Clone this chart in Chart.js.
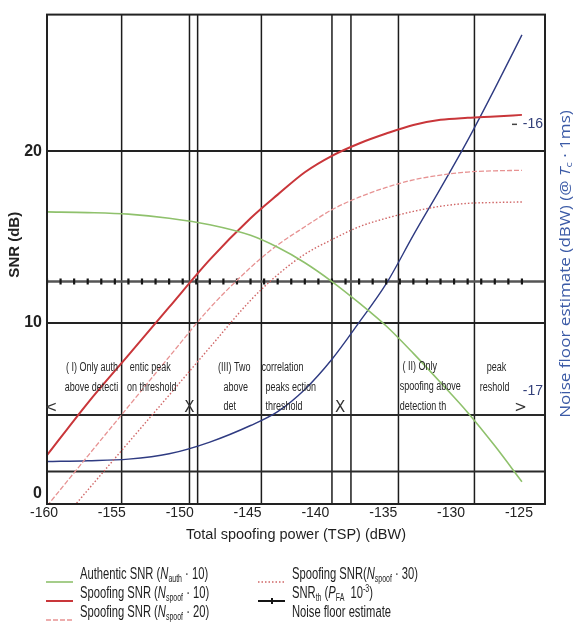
<!DOCTYPE html>
<html>
<head>
<meta charset="utf-8">
<script src="https://cdn.jsdelivr.net/npm/chart.js@4.4.0/dist/chart.umd.min.js"></script>
<style>
  html, body { margin: 0; padding: 0; background: #fff; }
  #myChart { display: block; }
</style>
</head>
<body>
<canvas id="myChart" width="576" height="634"></canvas>
<script>
// total spoofing power (dBW), shared by every curve
const tsp = [-160, -157, -154, -151, -148, -145, -143, -141, -139, -137, -135, -133, -131, -129, -127, -125];
// SNR curves (dB)
const authSnr = [16.47, 16.43, 16.34, 16.1, 15.72, 15.1, 14.4, 13.5, 12.4, 11.15, 9.8, 8.2, 6.5, 4.75, 2.8, 0.7];
const spoof10 = [2.25, 5.3, 8.1, 10.9, 13.68, 16.1, 17.48, 18.79, 19.75, 20.47, 21.05, 21.55, 21.85, 21.97, 22.05, 22.14];
const spoof20 = [-0.72, 2.2, 5.1, 8.0, 10.85, 13.22, 14.54, 15.6, 16.6, 17.33, 17.9, 18.34, 18.62, 18.8, 18.87, 18.9];
const spoof30 = [-2.57, 0.21, 2.99, 5.76, 8.55, 11.3, 12.8, 14.0, 14.85, 15.6, 16.1, 16.5, 16.8, 16.97, 17.02, 17.05];
// noise floor estimate (dBW), right axis
const noiseFloor = [-17.263, -17.26, -17.254, -17.234, -17.19, -17.128, -17.076, -16.993, -16.88, -16.742, -16.597, -16.415, -16.24, -16.06, -15.866, -15.665];

// detection threshold and its markers
const snrThreshold = 12.4;
const snrThMarks = [-160, -159, -158, -157, -156, -155, -154, -153, -152, -151, -150, -149, -148, -147, -146, -145, -144, -143,
  -142, -141, -140, -139, -138, -137, -136, -135, -134, -133, -132, -131, -130, -129, -128, -127, -126, -125];

// region boundaries
const regionBounds = [-154.5, -149.5, -148.9, -144.2, -139.0, -137.6, -134.1, -128.5];
const levelLines = [4.6, 1.3];

// tick labels
const xTicks = [-160, -155, -150, -145, -140, -135, -130, -125];
const yTicks = [0, 10, 20];
const y2Ticks = [-17, -16];

// text written inside the plot: [text, tsp, snr]
const regionNotes = [
  ['( I) Only auth', -158.6, 7.35], ['entic peak', -153.9, 7.35],
  ['above detecti', -158.7, 6.2], ['on threshold', -154.1, 6.2],
  ['(III) Two', -147.4, 7.35], ['correlation', -144.2, 7.35],
  ['above', -147.0, 6.2], ['peaks ection', -143.9, 6.2],
  ['det', -147.0, 5.1], ['threshold', -143.9, 5.1],
  ['( II) Only', -133.8, 7.4], ['spoofing above', -134.0, 6.25], ['detection th', -134.0, 5.1],
  ['peak', -127.6, 7.35], ['reshold', -128.1, 6.2]
];
const regionMarks = [['<', -159.7, 5.0], ['X', -149.5, 5.0], ['X', -138.4, 5.0], ['>', -125.1, 5.0]];

const NARROW = '"Liberation Sans Narrow", "Arial Narrow", sans-serif';

const pts = (xs, ys) => xs.map((x, i) => ({ x: x, y: ys[i] }));

// text with *italic*, _{sub} and ^{sup}
function richParts(str) {
  const parts = [];
  const re = /\*([^*]+)\*|_\{([^}]*)\}|\^\{([^}]*)\}|([^*_^]+)/g;
  let m;
  while ((m = re.exec(str))) {
    if (m[1]) parts.push({ t: m[1], it: true, dy: 0, k: 1 });
    else if (m[2] !== undefined) parts.push({ t: m[2], it: false, dy: 0.28, k: 0.62 });
    else if (m[3] !== undefined) parts.push({ t: m[3], it: false, dy: -0.3, k: 0.62 });
    else parts.push({ t: m[4], it: false, dy: 0, k: 1 });
  }
  return parts;
}
function richWidth(ctx, str, size, family) {
  let w = 0;
  for (const p of richParts(str)) {
    ctx.font = (p.it ? 'italic ' : '') + Math.round(size * p.k) + 'px ' + family;
    w += ctx.measureText(p.t).width;
  }
  return w;
}
function drawRich(ctx, str, x, y, size, family, color, sx) {
  ctx.save();
  ctx.translate(x, y);
  ctx.scale(sx || 1, 1);
  ctx.fillStyle = color;
  ctx.textAlign = 'left';
  ctx.textBaseline = 'middle';
  let cx = 0;
  for (const p of richParts(str)) {
    ctx.font = (p.it ? 'italic ' : '') + Math.round(size * p.k) + 'px ' + family;
    ctx.fillText(p.t, cx, p.dy * size);
    cx += ctx.measureText(p.t).width;
  }
  ctx.restore();
}

const overlay = {
  id: 'overlay',
  beforeDatasetsDraw(chart) {
    const { ctx, chartArea: a, scales } = chart;
    const x = scales.x, y = scales.y;
    ctx.save();
    ctx.strokeStyle = '#1c1c1c';
    ctx.lineWidth = 1.5;
    regionBounds.forEach(v => {
      const px = x.getPixelForValue(v);
      ctx.beginPath(); ctx.moveTo(px, a.top); ctx.lineTo(px, a.bottom); ctx.stroke();
    });
    ctx.lineWidth = 2;
    ctx.strokeStyle = '#2a2a2a';
    levelLines.forEach(v => {
      const py = y.getPixelForValue(v);
      ctx.beginPath(); ctx.moveTo(a.left, py); ctx.lineTo(a.right, py); ctx.stroke();
    });
    ctx.lineWidth = 2.5;
    ctx.strokeStyle = '#555';
    const ty = y.getPixelForValue(snrThreshold);
    ctx.beginPath(); ctx.moveTo(a.left, ty); ctx.lineTo(a.right, ty); ctx.stroke();
    ctx.restore();
  },
  afterDatasetsDraw(chart) {
    const { ctx, chartArea: a, scales } = chart;
    const x = scales.x, y = scales.y;
    ctx.save();
    ctx.strokeStyle = '#222';
    ctx.lineWidth = 2;
    ctx.strokeRect(a.left, a.top, a.right - a.left, a.bottom - a.top);
    // small inner tick of the right axis
    ctx.lineWidth = 1.5;
    ctx.strokeStyle = '#444';
    const p16 = scales.y2.getPixelForValue(y2Ticks[1]);
    ctx.beginPath(); ctx.moveTo(a.right - 33, p16); ctx.lineTo(a.right - 28, p16); ctx.stroke();
    regionNotes.forEach(n => {
      drawRich(ctx, n[0], x.getPixelForValue(n[1]), y.getPixelForValue(n[2]), 12, NARROW, '#262626', 0.75);
    });
    ctx.font = '15px "DejaVu Sans", sans-serif';
    ctx.fillStyle = '#333';
    ctx.textAlign = 'center';
    ctx.textBaseline = 'middle';
    regionMarks.forEach(n => ctx.fillText(n[0], x.getPixelForValue(n[1]), y.getPixelForValue(n[2])));
    ctx.restore();
  },
  afterDraw(chart) {
    const { ctx } = chart;
    // right axis title, read from bottom to top
    const title = 'Noise floor estimate (dBW) (@ *T*_{c} · 1ms)';
    const fam = '"Open Sans", sans-serif';
    ctx.save();
    ctx.translate(566, 264);
    ctx.rotate(-Math.PI / 2);
    const tw = richWidth(ctx, title, 14, fam) * 1.22;
    drawRich(ctx, title, -tw / 2, 0, 14, fam, '#3b5aa6', 1.22);
    ctx.restore();

    // legend in two columns
    const colText = [80, 292];
    const rowY = [575, 594, 613];
    chart.data.datasets.forEach((ds, i) => {
      const col = i < 3 ? 0 : 1, row = i % 3;
      const tx = colText[col], ty = rowY[row];
      if (ds.legendLine !== false) {
        const sy = ty + 7;
        ctx.save();
        ctx.strokeStyle = ds.borderColor;
        ctx.lineWidth = Math.max(ds.borderWidth || 1.5, 1.5);
        ctx.setLineDash(ds.borderDash || []);
        ctx.beginPath(); ctx.moveTo(tx - 34, sy); ctx.lineTo(tx - 7, sy); ctx.stroke();
        if (ds.showLine === false) {
          ctx.beginPath(); ctx.moveTo(tx - 20, sy - 3); ctx.lineTo(tx - 20, sy + 3); ctx.stroke();
        }
        ctx.restore();
      }
      drawRich(ctx, ds.label, tx, ty, 16, NARROW, '#1e1e1e', 0.7);
    });
  }
};

const ctx = document.getElementById('myChart');
new Chart(ctx, {
  type: 'line',
  data: {
    datasets: [
      {
        label: 'Authentic SNR (*N*_{auth} · 10)',
        data: pts(tsp, authSnr),
        borderColor: '#8fc16c',
        borderWidth: 1.6
      },
      {
        label: 'Spoofing SNR (*N*_{spoof} · 10)',
        data: pts(tsp, spoof10),
        borderColor: '#c9363a',
        borderWidth: 2
      },
      {
        label: 'Spoofing SNR (*N*_{spoof} · 20)',
        data: pts(tsp, spoof20),
        borderColor: '#e79393',
        borderWidth: 1.3,
        borderDash: [5, 2]
      },
      {
        label: 'Spoofing SNR(*N*_{spoof} · 30)',
        data: pts(tsp, spoof30),
        borderColor: '#d06666',
        borderWidth: 1.4,
        borderDash: [1.5, 2]
      },
      {
        label: 'SNR_{th} (*P*_{FA}  10^{-3})',
        data: snrThMarks.map(v => ({ x: v, y: snrThreshold })),
        showLine: false,
        borderColor: '#151515',
        backgroundColor: '#151515',
        pointStyle: 'line',
        pointRotation: 90,
        pointRadius: 3,
        pointBorderWidth: 2.2,
        borderWidth: 2
      },
      {
        label: 'Noise floor estimate',
        data: pts(tsp, noiseFloor),
        yAxisID: 'y2',
        borderColor: '#2f3b82',
        borderWidth: 1.4,
        legendLine: false
      }
    ]
  },
  options: {
    responsive: false,
    animation: false,
    devicePixelRatio: 1,
    layout: { padding: { top: 9, left: 0, right: 0, bottom: 0 } },
    elements: {
      point: { radius: 0 },
      line: { cubicInterpolationMode: 'monotone', fill: false }
    },
    plugins: {
      legend: { display: false },
      tooltip: { enabled: false }
    },
    scales: {
      x: {
        type: 'linear',
        min: -160,
        max: -123.3,
        afterBuildTicks: s => { s.ticks = xTicks.map(v => ({ value: v })); },
        afterFit: s => { s.height = 130; },
        grid: { display: false, drawTicks: false },
        border: { display: false },
        ticks: {
          padding: 1,
          labelOffset: -3,
          color: '#222',
          font: { family: NARROW, size: 14 }
        },
        title: {
          display: true,
          text: 'Total spoofing power (TSP) (dBW)',
          color: '#1e1e1e',
          font: { family: NARROW, size: 14.5 },
          padding: { top: 0, bottom: 90 }
        }
      },
      y: {
        min: -0.6,
        max: 28,
        afterBuildTicks: s => { s.ticks = yTicks.map(v => ({ value: v })); },
        afterFit: s => { s.width = 47; },
        border: { display: false },
        grid: {
          drawTicks: false,
          lineWidth: 2,
          color: c => (c.tick && c.tick.value === 0 ? 'rgba(0,0,0,0)' : '#222')
        },
        ticks: {
          padding: 5,
          color: '#222',
          font: { family: NARROW, size: 16, weight: 'bold' }
        },
        title: {
          display: true,
          text: '       SNR (dB)',
          color: '#222',
          font: { family: NARROW, size: 15, weight: 'bold' },
          padding: { top: 6, bottom: 0 }
        }
      },
      y2: {
        position: 'right',
        min: -17.422,
        max: -15.589,
        afterBuildTicks: s => { s.ticks = y2Ticks.map(v => ({ value: v })); },
        afterFit: s => { s.width = 31; },
        border: { display: false },
        grid: { display: false, drawTicks: false },
        ticks: {
          mirror: true,
          padding: -2,
          color: '#33407a',
          font: { family: NARROW, size: 14 }
        }
      }
    }
  },
  plugins: [overlay]
});
</script>
</body>
</html>
